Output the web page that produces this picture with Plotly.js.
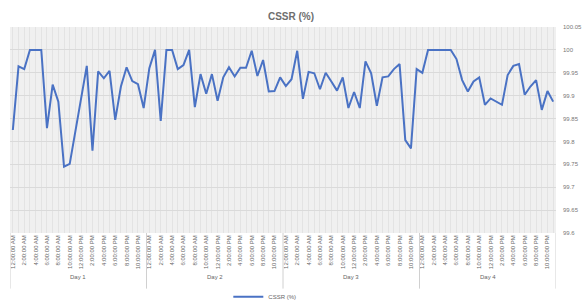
<!DOCTYPE html>
<html>
<head>
<meta charset="utf-8">
<script src="https://cdn.plot.ly/plotly-3.0.1.min.js"></script>
<style>html,body{margin:0;padding:0;background:#fff;}#chart{width:582px;height:306px;}</style>
</head>
<body>
<div id="chart"></div>
<script>
var days = ["Day 1", "Day 2", "Day 3", "Day 4"];
var hours = ["12:00:00 AM","1:00:00 AM","2:00:00 AM","3:00:00 AM","4:00:00 AM","5:00:00 AM",
  "6:00:00 AM","7:00:00 AM","8:00:00 AM","9:00:00 AM","10:00:00 AM","11:00:00 AM",
  "12:00:00 PM","1:00:00 PM","2:00:00 PM","3:00:00 PM","4:00:00 PM","5:00:00 PM",
  "6:00:00 PM","7:00:00 PM","8:00:00 PM","9:00:00 PM","10:00:00 PM","11:00:00 PM"];
var cssrDay1 = [99.825,99.964,99.958,100,100,100,99.829,99.924,99.887,99.745,99.751,99.825,
  99.897,99.965,99.780,99.953,99.938,99.954,99.847,99.920,99.962,99.932,99.925,99.873];
var cssrDay2 = [99.960,100,99.845,100,100,99.958,99.967,100,99.875,99.947,99.904,99.947,
  99.889,99.940,99.962,99.942,99.961,99.961,99.998,99.943,99.978,99.909,99.910,99.940];
var cssrDay3 = [99.921,99.936,99.998,99.893,99.952,99.949,99.914,99.950,99.931,99.911,99.940,99.873,
  99.908,99.873,99.975,99.949,99.878,99.940,99.942,99.958,99.969,99.803,99.785,99.958];
var cssrDay4 = [99.950,100,100,100,100,100,99.980,99.934,99.909,99.931,99.940,99.880,
  99.894,99.887,99.880,99.945,99.965,99.969,99.902,99.920,99.934,99.869,99.910,99.887];
var yTicks = [99.6,99.65,99.7,99.75,99.8,99.85,99.9,99.95,100,100.05];
var yTickText = ["99.6","99.65","99.7","99.75","99.8","99.85","99.9","99.95","100","100.05"];

var series = [cssrDay1, cssrDay2, cssrDay3, cssrDay4];
var xs = [], ys = [], tickvals = [], ticktext = [];
days.forEach(function(d, di){
  hours.forEach(function(h, hi){
    var idx = di * hours.length + hi;
    xs.push(idx); ys.push(series[di][hi]);
    tickvals.push(idx);
    ticktext.push(hi % 2 === 0 ? h : "");
  });
});

var n = xs.length;
var shapes = [];
var annotations = [];
for (var d = 0; d <= days.length; d++) {
  var xb = d * hours.length - 0.5;
  shapes.push({type:'line', xref:'x', yref:'paper', x0:xb, x1:xb, y0:0, y1:-0.27,
    line:{color:'#d0d0d0', width:1}});
}
days.forEach(function(dname, di){
  annotations.push({xref:'x', yref:'paper', x: di*hours.length + (hours.length-1)/2, y:-0.215,
    text:dname, showarrow:false, font:{family:'Liberation Sans, Arial', size:6, color:'#666666'},
    yanchor:'middle'});
});

var trace = {
  x: xs, y: ys, type:'scatter', mode:'lines', name:'CSSR (%)',
  line:{color:'#4a72c4', width:2}
};

var layout = {
  width:582, height:306,
  margin:{l:10, r:26, t:27, b:73},
  paper_bgcolor:'#ffffff',
  plot_bgcolor:'#f0f0f0',
  title:{text:'CSSR (%)', x:0.5, xanchor:'center', y:0.945, yanchor:'middle',
    font:{family:'Liberation Sans, Arial', size:10, color:'#6e6e6e', weight:'bold'}},
  xaxis:{range:[-0.5, n-0.5], tickmode:'array', tickvals:tickvals, ticktext:ticktext,
    tickangle:-90, tickfont:{family:'Liberation Sans, Arial', size:6, color:'#666666'},
    showgrid:true, gridcolor:'#e3e3e3', gridwidth:1, zeroline:false, ticks:'', showline:false,
    automargin:false, fixedrange:true},
  yaxis:{side:'right', range:[99.6, 100.05], tickmode:'array', tickvals:yTicks, ticktext:yTickText,
    tickfont:{family:'Liberation Sans, Arial', size:6, color:'#777777'},
    showgrid:true, gridcolor:'#dadada', gridwidth:1, zeroline:false, ticks:'', showline:false,
    automargin:false, ticklabelstandoff:6},
  showlegend:true,
  legend:{orientation:'h', xref:'container', yref:'container', x:0.455, xanchor:'center',
    y:0.03, yanchor:'middle',
    font:{family:'Liberation Sans, Arial', size:6, color:'#666666'}, bgcolor:'rgba(0,0,0,0)'},
  shapes:shapes,
  annotations:annotations
};

Plotly.newPlot('chart', [trace], layout, {displayModeBar:false, staticPlot:true});
</script>
</body>
</html>
